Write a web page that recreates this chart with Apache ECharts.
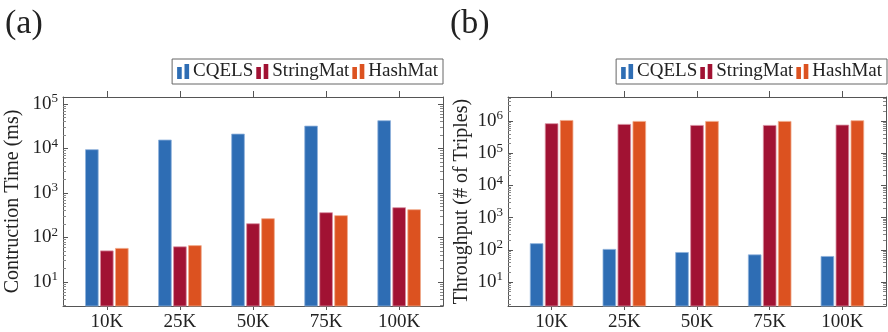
<!DOCTYPE html>
<html><head><meta charset="utf-8">
<script src="https://cdn.jsdelivr.net/npm/echarts@6/dist/echarts.min.js"></script>
<style>html,body{margin:0;padding:0;background:#fff}#c{width:888px;height:332px}</style>
</head><body><div id="c"></div>
<script>
const categories = ['10K', '25K', '50K', '75K', '100K'];
const seriesNames = ['CQELS', 'StringMat', 'HashMat'];
// (a) Construction time (ms)
const timeCQELS = [9600, 15800, 21500, 32500, 43000];
const timeStringMat = [51, 63, 208, 368, 477];
const timeHashMat = [58, 67, 270, 316, 430];
// (b) Throughput (# of triples)
const thrCQELS = [160, 106, 85, 72, 64];
const thrStringMat = [850000, 807000, 750000, 750000, 767000];
const thrHashMat = [1070000, 1000000, 1000000, 1000000, 1050000];

const colors = ['#2e6db4', '#a11233', '#dc5220'];
const borders = ['#8fb3dc', '#d88ea0', '#f0a98a'];
const FONT = '"Liberation Serif", "Times New Roman", "DejaVu Serif", serif';
const AX = '#555';
const catIdx = categories.map((_, i) => i);

const chart = echarts.init(document.getElementById('c'));

function xAxes(gi) {
  return [{
    type: 'value', gridIndex: gi, min: -0.6, max: 4.6, position: 'bottom',
    axisLine: {show: true, onZero: false, lineStyle: {color: AX, width: 1}},
    axisTick: {show: true, length: 4, customValues: catIdx, lineStyle: {color: AX}},
    axisLabel: {customValues: catIdx, formatter: v => categories[Math.round(v)], fontFamily: FONT, fontSize: 19, color: '#222', margin: 7},
    splitLine: {show: false}
  }, {
    type: 'value', gridIndex: gi, min: -0.6, max: 4.6, position: 'top',
    axisLine: {show: true, onZero: false, lineStyle: {color: AX, width: 1}},
    axisTick: {show: true, length: 6, customValues: catIdx, lineStyle: {color: AX}},
    axisLabel: {show: false}, splitLine: {show: false}
  }];
}
function yAxes(gi, min, max, name, gap) {
  const common = {
    type: 'log', logBase: 10, gridIndex: gi, min: min, max: max,
    axisLine: {show: true, onZero: false, lineStyle: {color: AX, width: 1}},
    axisTick: {show: true, inside: true, length: 5, lineStyle: {color: AX}},
    minorTick: {show: true, splitNumber: 9, length: 3, lineStyle: {color: '#888'}},
    splitLine: {show: false}
  };
  return [Object.assign({}, common, {
    position: 'left', name: name, nameLocation: 'middle', nameGap: gap, nameRotate: 90,
    nameTextStyle: {fontFamily: FONT, fontSize: 20, color: '#222'},
    axisLabel: {
      showMinLabel: false, showMaxLabel: false, margin: 5,
      formatter: v => '{b|10}{s|' + Math.round(Math.log10(v)) + '}',
      rich: {b: {fontFamily: FONT, fontSize: 19, color: '#222'}, s: {fontFamily: FONT, fontSize: 13, color: '#222', padding: [0, 0, 10, 0]}}
    }
  }), Object.assign({}, common, {position: 'right', axisLabel: {show: false}})];
}

function bars(gi, arrs) {
  return arrs.map((arr, k) => ({
    name: seriesNames[k], type: 'bar', xAxisIndex: gi * 2, yAxisIndex: gi * 2,
    data: arr.map((v, i) => [catIdx[i], v]),
    barWidth: 13.5, barGap: '11%',
    itemStyle: {color: colors[k], borderColor: borders[k], borderWidth: 0.8},
    clip: true
  }));
}

const legendIcon = 'path://M0,3H5V16H0ZM8,0H13V16H8Z';
function legend(right) {
  return {
    top: 59, right: right, orient: 'horizontal',
    data: seriesNames, icon: legendIcon, itemWidth: 12, itemHeight: 15, itemGap: 3,
    itemStyle: {borderWidth: 0},
    borderColor: '#666', borderWidth: 1, padding: [3, 5, 3, 5],
    textStyle: {fontFamily: FONT, fontSize: 19, color: '#222', padding: [0, 0, 0, -1]}
  };
}

chart.setOption({
  animation: false,
  color: colors,
  textStyle: {fontFamily: FONT},
  title: [
    {text: '(a)', left: 5, top: 7, padding: 0, textStyle: {fontFamily: FONT, fontSize: 34, fontWeight: 'normal', color: '#222'}},
    {text: '(b)', left: 450, top: 7, padding: 0, textStyle: {fontFamily: FONT, fontSize: 34, fontWeight: 'normal', color: '#222'}}
  ],
  legend: [legend(445), legend(1)],
  grid: [
    {left: 63, right: 445, top: 97, bottom: 26},
    {left: 508, right: 2, top: 97, bottom: 26}
  ],
  xAxis: xAxes(0).concat(xAxes(1)),
  yAxis: yAxes(0, Math.pow(10, 0.46), Math.pow(10, 5.157), 'Contruction Time (ms)', 40)
    .concat(yAxes(1, Math.pow(10, 0.255), Math.pow(10, 6.745), 'Throughput (# of Triples)', 36)),
  series: bars(0, [timeCQELS, timeStringMat, timeHashMat]).concat(bars(1, [thrCQELS, thrStringMat, thrHashMat]))
});
</script></body></html>
